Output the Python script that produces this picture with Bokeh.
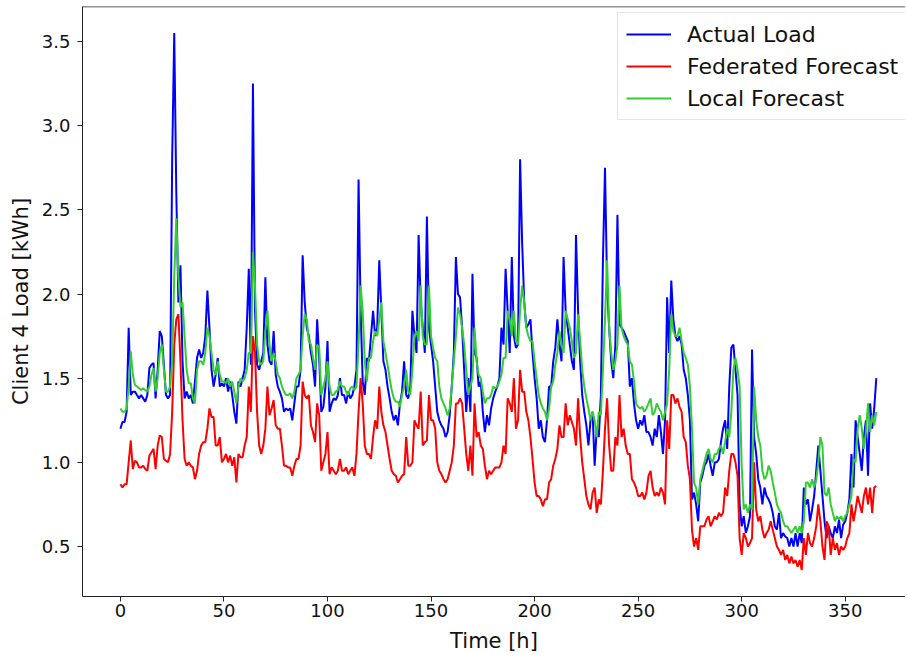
from bokeh.plotting import figure
from bokeh.models import FixedTicker, PrintfTickFormatter, Legend, LegendItem, ColumnDataSource, Range1d, Span
from bokeh.embed import file_html
from bokeh.resources import INLINE

# Actual load (blue), hour 0..365
actual_load = [
    1.20,1.24,1.24,1.30,1.80,1.40,1.42,1.42,1.40,1.38, 1.40,1.38,1.36,1.40,1.56,1.58,1.59,1.38,1.55,1.78,
    1.75,1.58,1.40,1.38,1.40,2.80,3.55,2.60,1.95,2.17, 1.60,1.38,1.42,1.38,1.40,
    1.35,1.48,1.62,1.67,1.62, 1.65,1.75,2.02,1.80,1.55, 1.45,1.52,1.62,1.45,1.47, 1.45,1.50,1.42,1.48,1.40,
    1.30,1.23,1.48,1.45,1.50, 1.55,1.80,2.15,1.58,3.25, 1.90,1.58,1.55,1.60,1.65, 2.10,1.70,
    1.60,1.58,1.78,1.52,1.45,1.42,1.38,1.30, 1.32,1.31,1.32,1.25,1.35,1.45,1.45,1.55,
    2.23,1.95,1.80,1.75,1.65,1.58,1.45,1.85, 1.62,1.30,1.33,1.45,1.72,1.30,1.35,1.38, 1.37,1.40,1.50,1.40,
    1.40,1.35,1.42,1.38,1.40,1.45,1.55,2.68,1.90,1.48, 1.40,1.62,1.60,1.75,1.90,1.75,1.80,2.20,1.90,1.60,
    1.55,1.45,1.38,1.30,1.25,1.28,1.22,1.35,1.42,1.60, 1.40,1.38,1.45,1.90,1.75,1.65,2.35,1.95,
    1.80,1.65,2.46,1.80,1.70,1.60,1.45,1.30,1.25,1.22, 1.20,1.15,1.18,1.28,1.45,1.65,2.22,2.00,1.98,1.80,
    1.55,1.30,1.50,1.30,2.12,1.65,1.62,1.45,1.48,1.30, 1.18,1.28,1.22,1.32,1.38,1.42,1.45,
    1.50,1.80,1.70,2.15,1.90,1.65,2.22,1.75,1.68,1.70, 2.80,2.30,1.95,1.80,1.82,1.85,1.65,1.50,1.38,1.20,
    1.25,1.15,1.12,1.25,1.45,1.45,1.60,1.68,1.85,1.70, 1.60,2.22,1.90,1.80,1.70,1.60,
    1.55,2.35,1.90,1.60,1.40,1.30,1.22,1.10,1.25,1.30, 0.98,1.20,1.15,1.40,2.20,2.75,2.05,1.80,1.60,1.50,
    1.70,2.47,1.82,1.80,1.78,1.75,1.72,1.45,1.50,1.35, 1.25,1.20,1.25,1.22,1.28,1.18,
    1.18,1.15,1.10,1.20,1.15,1.28,1.18,1.05,1.25,1.98, 1.65,2.08,1.85,1.75,1.72,1.75,1.70,1.55,1.50,1.40,
    1.25,0.78,0.82,0.75,0.65,0.88,0.92,0.98,1.00,1.05, 0.98,0.92,1.00,1.00,1.02,1.12,
    1.20,1.25,1.08,1.45,1.68,1.70,1.55,1.40,0.75,0.62, 0.68,0.58,0.62,0.68,1.67,1.15,1.05,0.90,0.85,0.75,
    0.85,0.80,0.78,0.75,0.70,0.62,0.60,0.70,0.55,0.58, 0.56,0.55,0.50,0.55,0.50,0.58,0.50,
    0.58,0.52,0.85,0.75,0.78,0.65,0.72,0.80,0.95,1.10, 0.95,0.80,0.65,0.55,0.62,0.58,0.55,0.62,0.58,0.66,
    0.55,0.63,0.65,0.70,0.78,1.05,0.85,1.25,1.15,1.05, 0.95,1.15,1.25,0.92,1.35,1.20,1.32,1.50,
]

# Federated forecast (red)
federated_forecast = [
    0.87,0.85,0.87,0.87,1.00,1.13,0.96,1.01,1.00,0.97, 0.97,0.98,0.96,0.95,1.04,1.06,1.08,0.96,1.10,1.16,
    1.15,1.02,1.01,1.00,1.05,1.30,1.70,1.85,1.88,1.60, 1.25,1.02,0.98,1.00,0.98,
    0.97,0.90,0.95,1.05,1.10, 1.12,1.12,1.20,1.32,1.27, 1.27,1.10,1.10,1.15,1.00, 1.02,1.05,1.00,1.04,0.98,
    1.03,0.88,1.05,1.03,1.03, 1.10,1.15,1.45,1.30,1.75, 1.65,1.30,1.10,1.05,1.10, 1.20,1.45,
    1.28,1.32,1.37,1.22,1.20,1.20,1.10,0.98, 0.98,0.97,0.97,0.92,0.98,1.02,1.02,1.10,
    1.48,1.40,1.38,1.40,1.22,1.18,1.12,1.35, 1.28,0.95,1.00,1.05,1.18,0.93,0.97,0.95, 0.93,0.95,1.02,0.95,
    0.95,0.97,0.93,0.95,0.97,0.92,1.05,1.30,1.50,1.35, 1.10,1.05,1.05,1.02,1.15,1.25,1.20,1.45,1.30,1.22,
    1.18,1.10,1.02,0.95,0.93,0.92,0.88,0.90,0.92,0.93, 1.15,0.98,0.98,1.00,1.25,1.22,1.20,1.42,
    1.10,1.12,1.13,1.40,1.25,1.25,1.20,1.00,0.95,0.93, 0.90,0.88,0.90,0.95,1.00,1.10,1.35,1.35,1.38,1.35,
    1.20,1.05,0.95,1.10,0.92,1.35,1.15,1.18,1.10,1.08, 0.98,0.90,0.95,0.93,0.95,0.97,0.97,
    0.97,1.00,1.10,1.05,1.38,1.35,1.30,1.50,1.20,1.25, 1.55,1.42,1.42,1.30,1.25,1.15,1.02,0.88,0.80,0.80,
    0.78,0.74,0.78,0.78,0.88,0.90,0.98,1.02,1.08,1.22, 1.15,1.15,1.35,1.22,1.28,1.24,
    1.20,1.10,1.38,1.15,1.00,0.90,0.80,0.75,0.72,0.82, 0.85,0.70,0.78,0.75,0.95,1.20,1.38,1.10,0.95,0.95,
    1.15,1.10,1.40,1.15,1.20,1.10,1.05,1.05,0.90,0.88, 0.85,0.80,0.80,0.82,0.78,0.82,
    0.92,0.95,0.85,0.80,0.82,0.80,0.85,0.82,0.75,1.25, 1.08,1.40,1.40,1.35,1.38,1.33,1.30,1.15,1.12,0.98,
    0.90,0.60,0.50,0.55,0.48,0.62,0.62,0.62,0.66,0.68, 0.62,0.65,0.68,0.66,0.70,0.68,
    0.70,0.85,0.80,0.95,1.05,1.05,1.00,0.92,0.55,0.45, 0.58,0.55,0.50,0.52,0.55,1.00,0.72,0.65,0.68,0.60,
    0.55,0.58,0.60,0.65,0.60,0.55,0.50,0.48,0.45,0.48, 0.42,0.45,0.40,0.44,0.40,0.42,0.38,
    0.42,0.36,0.55,0.45,0.58,0.52,0.50,0.55,0.62,0.75, 0.65,0.50,0.42,0.65,0.62,0.45,0.55,0.48,0.52,0.45,
    0.50,0.48,0.50,0.55,0.58,0.75,0.65,0.72,0.80,0.75, 0.70,0.80,0.85,0.75,0.85,0.70,0.85,0.86,
]

# Local forecast (green)
local_forecast = [
    1.32,1.30,1.30,1.32,1.45,1.66,1.52,1.46,1.45,1.44, 1.43,1.44,1.43,1.42,1.45,1.52,1.56,1.42,1.50,1.65,
    1.70,1.55,1.42,1.42,1.45,1.60,2.10,2.45,2.10,1.92, 1.95,1.75,1.55,1.47,1.47,
    1.38,1.35,1.55,1.60,1.60, 1.58,1.65,1.80,1.75,1.65, 1.55,1.52,1.60,1.52,1.48, 1.48,1.47,1.50,1.45,1.48,
    1.42,1.35,1.45,1.50,1.48, 1.50,1.55,1.65,1.65,2.25, 2.05,1.70,1.60,1.58,1.60, 1.78,1.90,
    1.70,1.60,1.65,1.60,1.52,1.50,1.45,1.42, 1.40,1.40,1.41,1.38,1.42,1.50,1.52,1.55,
    1.75,1.88,1.85,1.72,1.70,1.62,1.55,1.70, 1.68,1.40,1.45,1.50,1.60,1.45,1.40,1.40, 1.42,1.43,1.48,1.45,
    1.45,1.42,1.40,1.44,1.45,1.43,1.45,1.70,2.05,1.90, 1.60,1.48,1.62,1.62,1.72,1.78,1.75,1.85,1.95,1.72,
    1.65,1.58,1.50,1.43,1.38,1.36,1.36,1.33,1.40,1.45, 1.55,1.42,1.40,1.55,1.75,1.78,1.72,2.05,
    1.75,1.70,1.70,2.05,1.75,1.68,1.62,1.60,1.45,1.38, 1.35,1.32,1.28,1.32,1.45,1.60,1.75,1.92,1.88,1.80,
    1.70,1.55,1.40,1.45,1.50,1.80,1.60,1.52,1.50,1.42, 1.35,1.38,1.38,1.40,1.45,1.44,1.45,
    1.48,1.52,1.62,1.62,1.90,1.85,1.75,1.90,1.72,1.70, 1.90,2.05,1.95,1.80,1.75,1.72,1.72,1.60,1.50,1.40,
    1.35,1.32,1.30,1.25,1.32,1.45,1.48,1.58,1.65,1.78, 1.70,1.65,1.90,1.85,1.80,1.72,
    1.62,1.65,1.88,1.72,1.55,1.45,1.38,1.32,1.25,1.30, 1.25,1.15,1.30,1.28,1.55,1.85,2.20,1.80,1.65,1.55,
    1.60,1.70,2.05,1.80,1.75,1.72,1.70,1.60,1.58,1.48, 1.35,1.33,1.32,1.33,1.30,1.32,
    1.35,1.38,1.28,1.30,1.35,1.32,1.30,1.25,1.30,1.35, 1.55,1.88,1.78,1.75,1.75,1.80,1.72,1.65,1.62,1.58,
    1.45,1.20,0.88,0.85,0.75,0.90,0.95,1.00,1.05,1.08, 1.02,1.00,1.05,1.05,1.08,1.10,
    1.05,1.12,1.20,1.15,1.30,1.55,1.62,1.55,1.45,0.98, 0.72,0.75,0.70,0.75,0.72,1.45,1.25,1.15,1.10,0.95,
    0.90,0.92,0.98,0.95,0.88,0.82,0.75,0.72,0.70,0.65, 0.62,0.62,0.60,0.58,0.60,0.62,0.58,
    0.62,0.58,0.65,0.88,0.88,0.85,0.90,0.85,0.90,1.00, 1.15,1.10,0.82,0.80,0.85,0.75,0.70,0.65,0.68,0.66,
    0.68,0.65,0.68,0.70,0.75,0.80,1.02,1.00,1.20,1.28, 1.20,1.08,1.18,1.35,1.18,1.28,1.22,1.30,
]

x_ticks = [0, 50, 100, 150, 200, 250, 300, 350]
y_ticks = [0.5, 1.0, 1.5, 2.0, 2.5, 3.0, 3.5]
series_names = ["Actual Load", "Federated Forecast", "Local Forecast"]

FONT = "DejaVu Sans"
Y_TOP = 3.708

p = figure(width=905, height=657, output_backend="svg", toolbar_location=None,
           x_range=Range1d(-18.3, 379.1), y_range=Range1d(0.203, Y_TOP),
           min_border_left=82, min_border_right=0, min_border_top=6, min_border_bottom=61)

p.background_fill_color = "white"
p.border_fill_color = "white"
p.outline_line_color = None
p.xgrid.visible = False
p.ygrid.visible = False

# top frame edge (the right edge of the original frame lies outside the picture)
p.add_layout(Span(location=Y_TOP, dimension="width", line_color="#222222", line_width=1.5))

def src(vals):
    return ColumnDataSource(dict(x=list(range(len(vals))), y=vals))

r_act = p.line("x", "y", source=src(actual_load), line_color="#0000ff", line_width=2)
r_fed = p.line("x", "y", source=src(federated_forecast), line_color="#ff0000", line_width=2)
r_loc = p.line("x", "y", source=src(local_forecast), line_color="#32cd32", line_width=2)

for ax in (p.xaxis[0], p.yaxis[0]):
    ax.axis_line_color = "#222222"
    ax.major_tick_line_color = "#222222"
    ax.major_tick_out = 5
    ax.major_tick_in = 0
    ax.minor_tick_line_color = None
    ax.major_label_text_font = FONT
    ax.major_label_text_font_size = "18px"
    ax.major_label_text_color = "#111111"
    ax.axis_label_text_font = FONT
    ax.axis_label_text_font_size = "21px"
    ax.axis_label_text_font_style = "normal"
    ax.axis_label_text_color = "#111111"

p.xaxis[0].ticker = FixedTicker(ticks=x_ticks)
p.yaxis[0].ticker = FixedTicker(ticks=y_ticks)
p.yaxis[0].formatter = PrintfTickFormatter(format="%.1f")
p.xaxis[0].axis_label = "Time [h]"
p.yaxis[0].axis_label = "Client 4 Load [kWh]"
p.xaxis[0].major_label_standoff = 2
p.yaxis[0].major_label_standoff = 7
p.xaxis[0].axis_label_standoff = 9
p.yaxis[0].axis_label_standoff = 6

legend = Legend(items=[
    LegendItem(label=series_names[0], renderers=[r_act]),
    LegendItem(label=series_names[1], renderers=[r_fed]),
    LegendItem(label=series_names[2], renderers=[r_loc]),
], location=(535, 476))
legend.label_text_font = FONT
legend.label_text_font_size = "22px"
legend.label_text_color = "#111111"
legend.glyph_width = 45
legend.glyph_height = 26
legend.label_height = 26
legend.label_standoff = 16
legend.spacing = 6
legend.padding = 8
legend.margin = 0
legend.border_line_color = "#cccccc"
legend.border_line_width = 1
legend.background_fill_color = "white"
legend.background_fill_alpha = 0.8
p.add_layout(legend)

open("out.html", "w").write(file_html(p, INLINE))
